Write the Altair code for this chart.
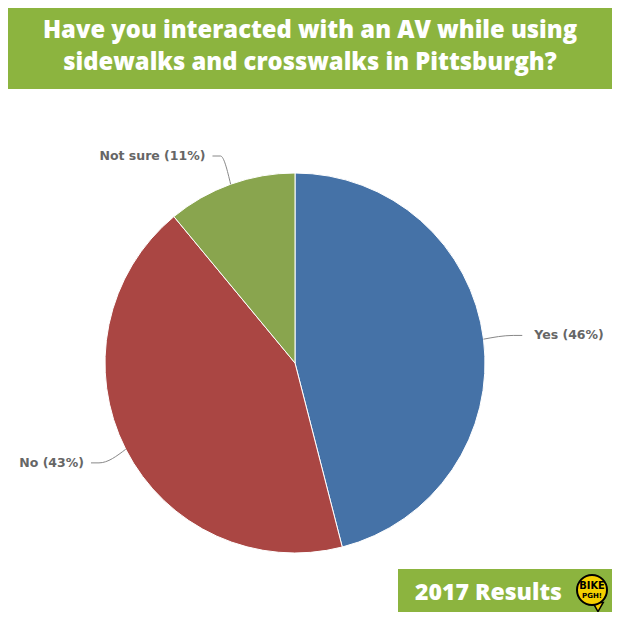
import altair as alt
import pandas as pd
import numpy as np

categories = ["Yes", "No", "Not sure"]
shares = [46, 43, 11]
colors = ["#4572A7", "#AA4643", "#89A54E"]
title_lines = ["Have you interacted with an AV while using",
               "sidewalks and crosswalks in Pittsburgh?"]
badge_text = "2017 Results"
logo_lines = ["BIKE", "PGH!"]

W = H = 604
CX, CY, R = 287, 355, 190
GREEN = "#8CB43F"

df = pd.DataFrame({"cat": categories, "share": shares, "ord": list(range(len(shares)))})
df["label"] = [f"{c} ({s}%)" for c, s in zip(categories, shares)]

# label / connector geometry derived from slice mid-angles
sh = np.array(shares, dtype=float)
mid = np.radians((np.cumsum(sh) - sh / 2) / sh.sum() * 360)
s, c = np.sin(mid), np.cos(mid)
side = np.sign(s)
R2 = R + 30
ly = CY - R2 * c
bx = CX + side * R2 * np.abs(s)
ex = bx + side * np.where(side > 0, 9, 8)
df["tx"] = ex + side * np.where(side > 0, 12, 7)
df["ty"] = ly
df["align"] = np.where(side > 0, "left", "right")

conn_rows = []
for i, cat in enumerate(categories):
    pts = [(CX + R * s[i], CY - R * c[i]), (bx[i], ly[i]), (ex[i], ly[i])]
    for k, (px, py) in enumerate(pts):
        conn_rows.append({"cat": cat, "k": k, "px": px, "py": py})
conn = pd.DataFrame(conn_rows)

one = pd.DataFrame({"a": [0]})

pie = alt.Chart(df).mark_arc(outerRadius=R, stroke="white", strokeWidth=1).encode(
    theta=alt.Theta("share:Q", stack=True),
    color=alt.Color("cat:N", scale=alt.Scale(domain=categories, range=colors), legend=None),
    order=alt.Order("ord:Q"),
    x=alt.value(CX), y=alt.value(CY),
)

px_scale = alt.Scale(domain=[0, W], range=[0, W])
py_scale = alt.Scale(domain=[0, H], range=[0, H])

connectors = alt.Chart(conn).mark_line(color="#888888", strokeWidth=1, interpolate="monotone").encode(
    x=alt.X("px:Q", scale=px_scale, axis=None),
    y=alt.Y("py:Q", scale=py_scale, axis=None),
    detail="cat:N",
    order="k:Q",
)

lab_style = dict(baseline="middle", font="DejaVu Sans", fontWeight="bold",
                 fontSize=12.5, color="#666666")
labels_right = alt.Chart(df[df["align"] == "left"]).mark_text(align="left", **lab_style).encode(
    x=alt.X("tx:Q", scale=px_scale, axis=None),
    y=alt.Y("ty:Q", scale=py_scale, axis=None),
    text="label:N",
)
labels_left = alt.Chart(df[df["align"] == "right"]).mark_text(align="right", **lab_style).encode(
    x=alt.X("tx:Q", scale=px_scale, axis=None),
    y=alt.Y("ty:Q", scale=py_scale, axis=None),
    text="label:N",
)

banner = alt.Chart(one).mark_rect(color=GREEN).encode(
    x=alt.value(0), x2=alt.value(W), y=alt.value(0), y2=alt.value(81))
title = alt.Chart(one).mark_text(
    text=title_lines, align="center", baseline="middle", lineHeight=32,
    font="Open Sans", fontWeight=800, fontSize=23.75, color="white").encode(
    x=alt.value(302), y=alt.value(23))

badge = alt.Chart(one).mark_rect(color=GREEN).encode(
    x=alt.value(390), x2=alt.value(W), y=alt.value(561), y2=alt.value(H))
badge_t = alt.Chart(one).mark_text(
    text=badge_text, align="left", baseline="middle",
    font="Open Sans", fontWeight=800, fontSize=23, color="white").encode(
    x=alt.value(407), y=alt.value(585))

logo_tail = alt.Chart(one).mark_point(shape="triangle-down", filled=True, fill="#F5D000",
                                      stroke="black", strokeWidth=1.5, size=110, opacity=1).encode(
    x=alt.value(590), y=alt.value(599))
logo = alt.Chart(one).mark_point(shape="circle", filled=True, fill="#F5D000",
                                 stroke="black", strokeWidth=2, size=900, opacity=1).encode(
    x=alt.value(584), y=alt.value(582))
logo_t1 = alt.Chart(one).mark_text(text=logo_lines[0], align="center", baseline="middle",
                                   font="DejaVu Sans Condensed", fontWeight="bold", fontSize=11,
                                   color="black").encode(x=alt.value(584), y=alt.value(578))
logo_t2 = alt.Chart(one).mark_text(text=logo_lines[1], align="center", baseline="middle",
                                   font="DejaVu Sans", fontWeight="bold", fontSize=7,
                                   color="black").encode(x=alt.value(584), y=alt.value(588))

chart = alt.layer(
    banner, title, pie, connectors, labels_right, labels_left,
    badge, badge_t, logo_tail, logo, logo_t1, logo_t2,
).properties(
    width=W, height=H, padding=0, autosize=alt.AutoSizeParams(type="none"),
    background="white",
).configure_view(stroke=None)

chart.save("out.html", embed_options={"renderer": "svg", "actions": False})
